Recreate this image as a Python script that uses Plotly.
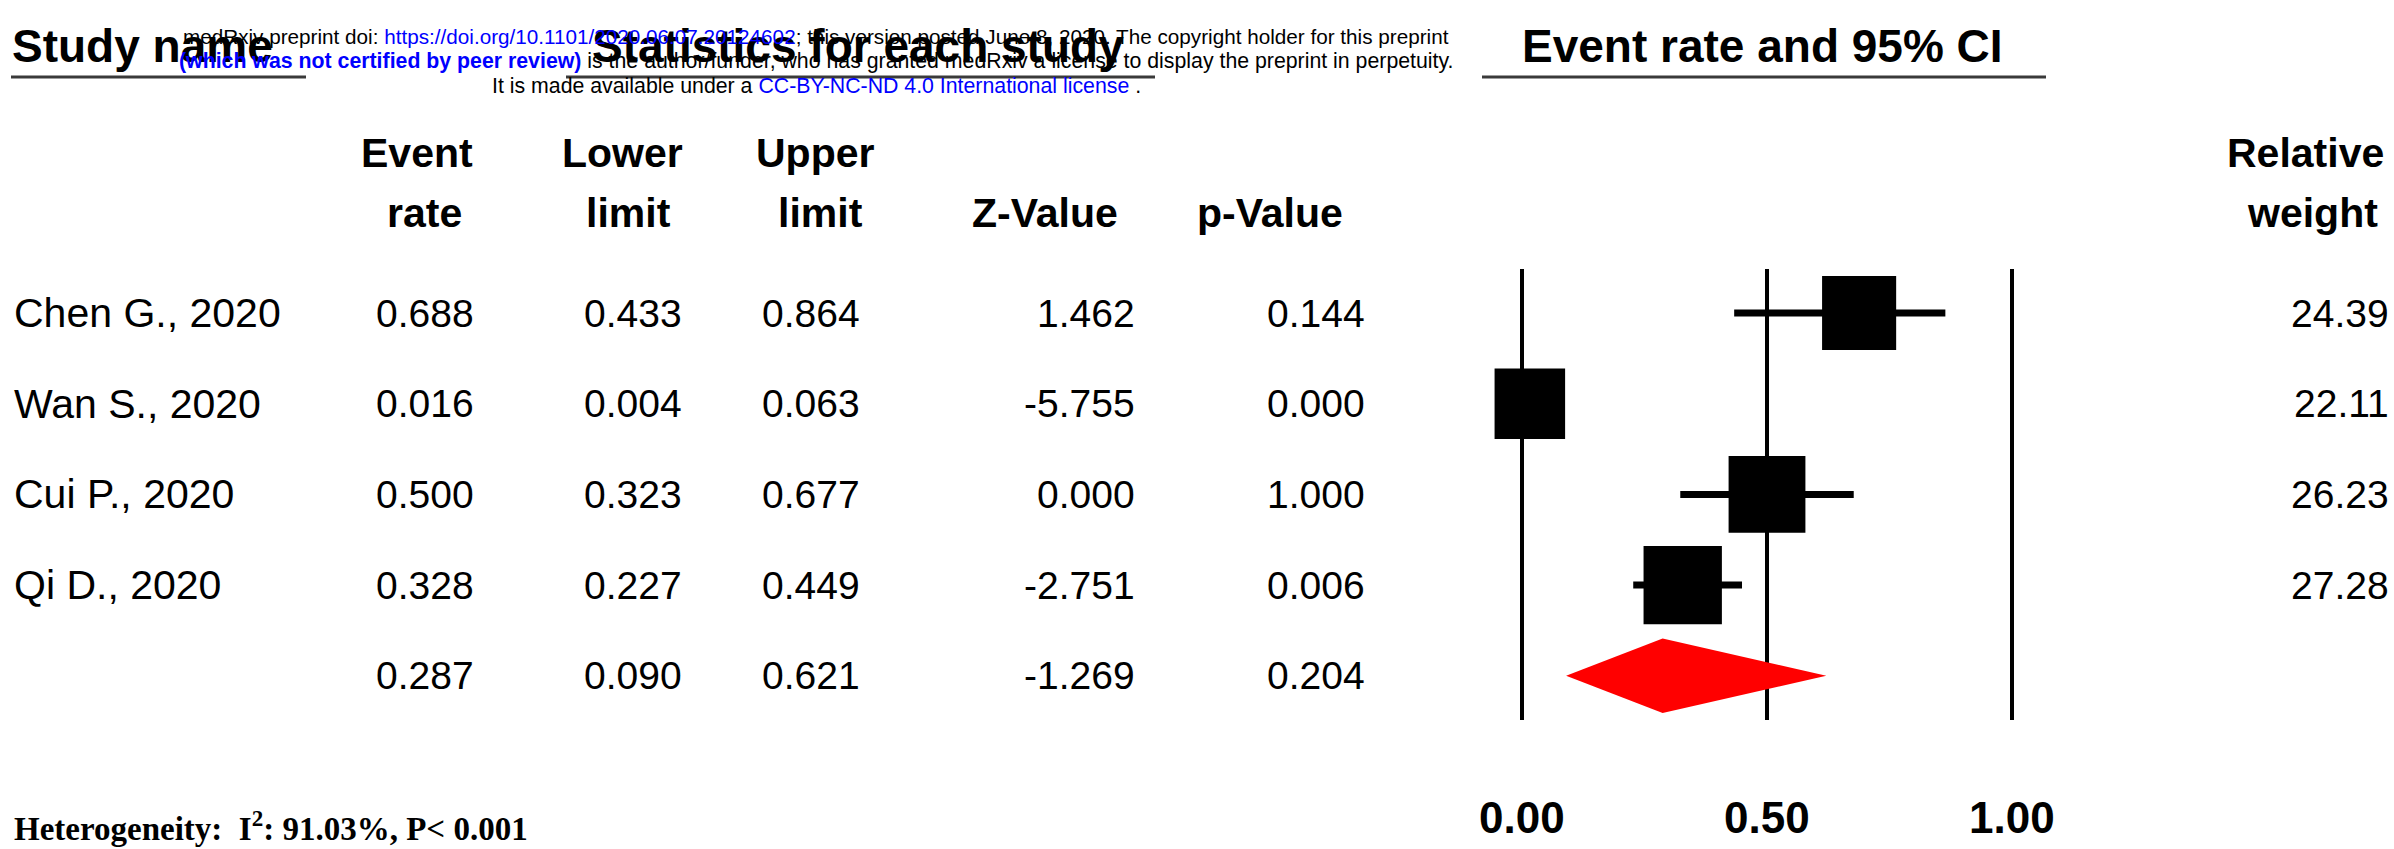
import plotly.graph_objects as go
import math

# ---------------- data ----------------
studies = ["Chen G., 2020", "Wan S., 2020", "Cui P., 2020", "Qi D., 2020", ""]
event_rate = [0.688, 0.016, 0.500, 0.328, 0.287]
lower_limit = [0.433, 0.004, 0.323, 0.227, 0.090]
upper_limit = [0.864, 0.063, 0.677, 0.449, 0.621]
z_value = [1.462, -5.755, 0.000, -2.751, -1.269]
p_value = [0.144, 0.000, 1.000, 0.006, 0.204]
rel_weight = [24.39, 22.11, 26.23, 27.28]
tick_vals = [0.0, 0.5, 1.0]
tick_labels = ["0.00", "0.50", "1.00"]
heterogeneity = "Heterogeneity:  I<sup>2</sup>: 91.03%, P< 0.001"

# ---------------- geometry ----------------
W, H = 2394, 849
ROW0, ROWSTEP = 313, 90.7          # pixel y of first row / row spacing


def py2y(py):
    return (py - ROW0) / ROWSTEP


def px(p):
    return p / W


def pyp(py):
    return 1 - py / H


SANS = "Liberation Sans, Arial, sans-serif"
SERIF = "Liberation Serif, Times New Roman, serif"

fig = go.Figure()

n_std = len(rel_weight)
rows = list(range(len(studies)))

# CI lines for individual studies
for i in range(n_std):
    fig.add_trace(go.Scatter(
        x=[lower_limit[i], upper_limit[i]], y=[rows[i], rows[i]],
        mode="lines", line=dict(color="black", width=7),
        hoverinfo="skip", showlegend=False, cliponaxis=False))

# boxes (size by relative weight)
fig.add_trace(go.Scatter(
    x=event_rate[:n_std], y=rows[:n_std], mode="markers",
    marker=dict(symbol="square", color="#000000", opacity=1,
                size=[15 * math.sqrt(w) for w in rel_weight],
                line=dict(width=0)),
    opacity=1, hoverinfo="skip", showlegend=False, cliponaxis=False))

# summary diamond
s = n_std
hh = 0.41
fig.add_trace(go.Scatter(
    x=[lower_limit[s], event_rate[s], upper_limit[s], event_rate[s], lower_limit[s]],
    y=[rows[s], rows[s] - hh, rows[s], rows[s] + hh, rows[s]],
    mode="lines", fill="toself", fillcolor="#ff0000",
    line=dict(color="#ff0000", width=0),
    hoverinfo="skip", showlegend=False))

shapes = []
# reference vertical lines
for v in tick_vals:
    shapes.append(dict(type="line", xref="x", yref="y", x0=v, x1=v,
                       y0=py2y(269), y1=py2y(720),
                       line=dict(color="black", width=4), layer="below"))

# header underlines
for x0, x1 in [(11, 306), (566, 1155), (1482, 2046)]:
    shapes.append(dict(type="line", xref="paper", yref="paper",
                       x0=px(x0), x1=px(x1), y0=pyp(77), y1=pyp(77),
                       line=dict(color="#3a3a3a", width=3)))

ann = []


def add(text, x, y, size, xanchor="center", bold=False, family=SANS,
        yref="paper", color="black", xref="paper", yanchor="middle"):
    if bold:
        text = "<b>" + text + "</b>"
    ann.append(dict(text=text, x=x, y=y, xref=xref, yref=yref,
                    xanchor=xanchor, yanchor=yanchor, showarrow=False,
                    font=dict(family=family, size=size, color=color)))


# section titles
TSZ = 46
add("Study name", px(10), pyp(46), TSZ, xanchor="left", bold=True)
add("Statistics for each study", px(858), pyp(46), TSZ, bold=True)
add("Event rate and 95% CI", px(1762), pyp(46), TSZ, bold=True)

# column headers
HSZ = 41
add("Event", px(417), pyp(153), HSZ, bold=True)
add("Lower", px(622), pyp(153), HSZ, bold=True)
add("Upper", px(815), pyp(153), HSZ, bold=True)
add("Relative", px(2305), pyp(153), HSZ, bold=True)
add("rate", px(424), pyp(213), HSZ, bold=True)
add("limit", px(628), pyp(213), HSZ, bold=True)
add("limit", px(820), pyp(213), HSZ, bold=True)
add("Z-Value", px(1045), pyp(213), HSZ, bold=True)
add("p-Value", px(1270), pyp(213), HSZ, bold=True)
add("weight", px(2312), pyp(213), HSZ, bold=True)

# table cells
NSZ, CSZ = 41, 39
col_right = [476, 684, 862, 1137, 1367]
for i in rows:
    if studies[i]:
        add(studies[i], px(12), i, NSZ, xanchor="left", yref="y")
    vals = [event_rate[i], lower_limit[i], upper_limit[i], z_value[i], p_value[i]]
    for v, xr in zip(vals, col_right):
        add(f"{v:.3f}", px(xr), i, CSZ, xanchor="right", yref="y")
    if i < n_std:
        add(f"{rel_weight[i]:.2f}", px(2391), i, CSZ, xanchor="right", yref="y")

# axis tick labels
for v, t in zip(tick_vals, tick_labels):
    add(t, v, py2y(817), 44, bold=True, xref="x", yref="y")

# heterogeneity footnote
add(heterogeneity, px(12), pyp(826), 33, xanchor="left", bold=True, family=SERIF)

# medRxiv watermark (drawn on top)
wm1 = ("medRxiv preprint doi: <span style='color:#0000ff'>https://doi.org/10.1101/2020.06.07.20124602</span>"
       "; this version posted June 8, 2020. The copyright holder for this preprint")
wm2 = ("<b><span style='color:#0000ff'>(which was not certified by peer review)</span></b>"
       " is the author/funder, who has granted medRxiv a license to display the preprint in perpetuity.")
wm3 = ("It is made available under a <span style='color:#0000ff'>CC-BY-NC-ND 4.0 International license</span> .")
add(wm1, px(816), pyp(37), 20.7)
add(wm2, px(816), pyp(61), 21.3)
add(wm3, px(816), pyp(86), 21.3)

fig.update_layout(
    width=W, height=H,
    margin=dict(l=0, r=0, t=0, b=0, pad=0),
    paper_bgcolor="white", plot_bgcolor="white",
    showlegend=False,
    xaxis=dict(range=[-0.2, 1.2], domain=[1424 / W, 2110 / W],
               showgrid=False, zeroline=False, showticklabels=False,
               showline=False, ticks="", fixedrange=True),
    yaxis=dict(range=[py2y(H), py2y(0)], domain=[0, 1],
               showgrid=False, zeroline=False, showticklabels=False,
               showline=False, ticks="", fixedrange=True),
    shapes=shapes,
    annotations=ann,
)

fig.write_html(
    "out.html",
    config={"displayModeBar": False, "responsive": False},
    post_script=("document.body.style.margin='0px';"
                 "document.body.style.padding='0px';"
                 "document.body.style.overflow='hidden';"),
)
